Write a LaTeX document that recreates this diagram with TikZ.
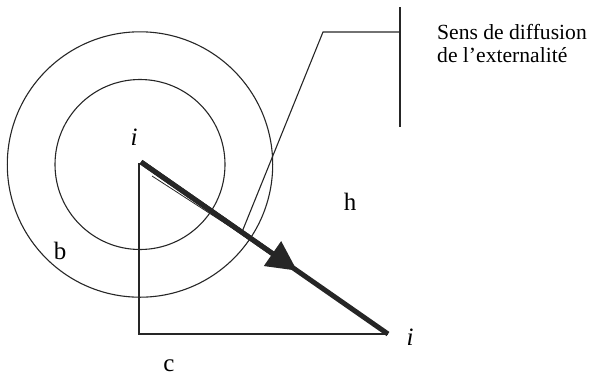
\documentclass[tikz,border=0pt]{standalone}
\usepackage{fontspec}
\setmainfont{Liberation Serif}
\usepackage{tikz}
\usetikzlibrary{positioning,arrows.meta,calc}

\tikzset{
  fin/.style={line width=1.1pt, draw=black!85},
  epais/.style={line width=5pt, draw=black!85},
  lettre/.style={font=\fontsize{25}{27}\selectfont, anchor=base, inner sep=0pt},
  texte/.style={font=\fontsize{21.6}{23}\selectfont, anchor=base west, inner sep=0pt, align=left}
}

\begin{document}
\begin{tikzpicture}[x=1pt, y=-1pt]
\useasboundingbox (0,0) rectangle (590,376);
% centre et points du triangle
\coordinate (O) at (140,164.5);
\coordinate (A) at (141,162);
\coordinate (B) at (388,334);
\coordinate (C) at (139,334);
\draw[fin] (O) circle[radius=132.7];
\draw[fin] (O) circle[radius=85];
% triangle
\draw[fin] (139,163) -- (C) -- (B);
% fleche epaisse, pointe au milieu
\coordinate (P) at ($(A)!0.632!(B)$);
\draw[epais] (A) -- (B);
\draw[epais, -{Triangle[length=30pt,width=29pt]}] (A) -- (P);
\draw[line width=0.8pt, draw=black!85] (152,176) -- (240,233);
% ligne h
\coordinate (h1) at (242,232);
\coordinate (h2) at (323,32);
\coordinate (v1) at (400,7);
\coordinate (v2) at (400,127);
\draw[fin] (h1) -- (h2) -- (400,32);
\draw[fin] (v1) -- (v2);
% lettres
\node[lettre] (ihaut) at (134,145) {\textit{i}};
\node[lettre] (ibas) at (410,345) {\textit{i}};
\node[lettre] (lb) at (60,259) {b};
\node[lettre] (lc) at (169,371) {c};
\node[lettre] (lh) at (350,210) {h};
\node[texte] (sens) at (437,39) {Sens de diffusion};
\node[texte] (ext) at (437,62) {de l’externalité};
\end{tikzpicture}
\end{document}
